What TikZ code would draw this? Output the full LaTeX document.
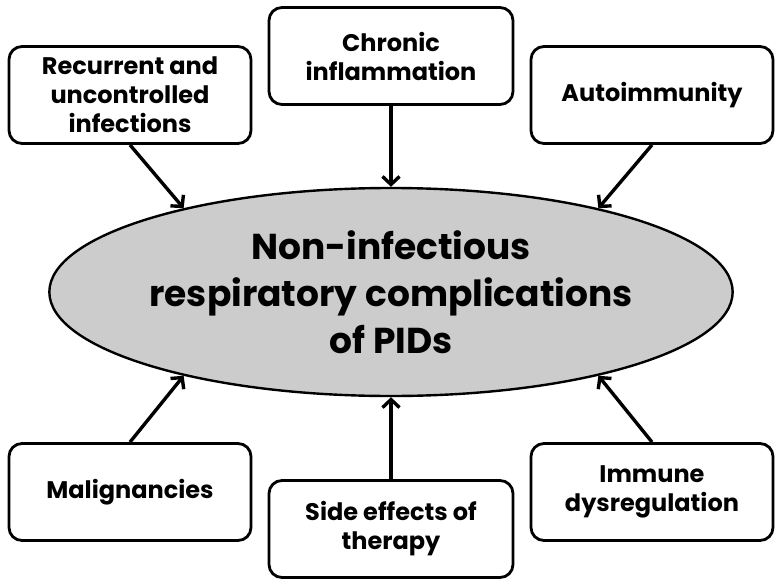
\documentclass[tikz,border=0pt]{standalone}
\usepackage{fontspec}
\setmainfont{Poppins}
\usetikzlibrary{shapes.geometric,arrows.meta}

\tikzset{
  caja/.style={draw, line width=2.8pt, rounded corners=13pt, fill=white,
    minimum width=242pt, minimum height=97pt, align=center,
    font=\fontsize{24}{29}\selectfont\bfseries},
  centro/.style={draw, ellipse, line width=2.4pt, fill=gris, inner sep=0pt,
    minimum width=524pt, minimum height=208pt, align=center,
    font=\fontsize{36}{47}\selectfont\bfseries},
  flecha/.style={draw, line width=3.4pt, -{Straight Barb[length=8pt,width=17pt]}}
}
\definecolor{gris}{RGB}{204,204,204}

\begin{document}
\begin{tikzpicture}[x=1pt,y=-1pt]
        % Paso 1: Fija el marco del dibujo
        \useasboundingbox (0,0) rectangle (784,586);

        % Paso 2: La elipse central
        \node[centro] (pid) at (391,292) {Non-infectious\\respiratory complications\\of PIDs};

        % Paso 3: Las cajas de arriba
        \node[caja] (rec) at (130,95) {Recurrent and\\uncontrolled\\infections};
        \node[caja, minimum width=244pt] (cro) at (391,56) {Chronic\\inflammation};
        \node[caja] (aut) at (652,95) {Autoimmunity};

        % Paso 4: Las cajas de abajo
        \node[caja] (mal) at (130,492) {Malignancies};
        \node[caja, minimum width=244pt] (sid) at (391,529) {Side effects of\\therapy};
        \node[caja] (inm) at (652,492) {Immune\\dysregulation};

        % Paso 5: Flechas hacia la elipse
        \draw[flecha] (rec.south) -- (pid.158);
        \draw[flecha] (cro.south) -- (pid.north);
        \draw[flecha] (aut.south) -- (pid.22);
        \draw[flecha] (mal.north) -- (pid.202);
        \draw[flecha] (sid.north) -- (pid.south);
        \draw[flecha] (inm.north) -- (pid.338);
    \end{tikzpicture}
\end{document}
